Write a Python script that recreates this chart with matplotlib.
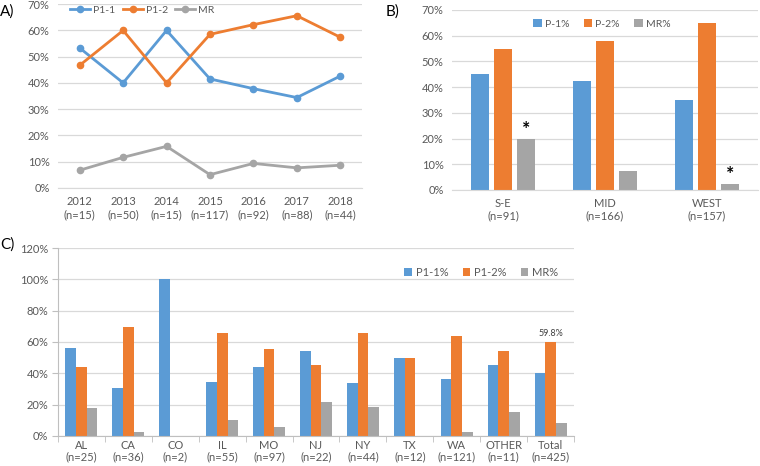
import matplotlib.pyplot as plt
import numpy as np

plt.rcParams['font.family'] = ['Lato', 'DejaVu Sans']

BLUE = '#5B9BD5'
ORANGE = '#ED7D31'
GRAY = '#A5A5A5'
GRID = '#D9D9D9'
TXT = '#595959'

# Panel A: by year
years = ['2012', '2013', '2014', '2015', '2016', '2017', '2018']
year_n = [15, 50, 15, 117, 92, 88, 44]
a_p11 = [53.3, 40.0, 60.0, 41.5, 37.8, 34.4, 42.6]
a_p12 = [46.7, 60.0, 40.0, 58.5, 62.2, 65.6, 57.4]
a_mr = [6.7, 11.6, 15.8, 5.0, 9.3, 7.6, 8.6]

# Panel B: by region
regions = ['S-E', 'MID', 'WEST']
region_n = [91, 166, 157]
b_p1 = [45.0, 42.2, 35.0]
b_p2 = [55.0, 57.8, 65.0]
b_mr = [20.0, 7.2, 2.5]
b_star = [True, False, True]

# Panel C: by state
states = ['AL', 'CA', 'CO', 'IL', 'MO', 'NJ', 'NY', 'TX', 'WA', 'OTHER', 'Total']
state_n = [25, 36, 2, 55, 97, 22, 44, 12, 121, 11, 425]
c_p11 = [56.0, 30.6, 100.0, 34.5, 44.3, 54.5, 34.1, 50.0, 36.4, 45.5, 40.2]
c_p12 = [44.0, 69.4, 0.0, 65.5, 55.7, 45.5, 65.9, 50.0, 63.6, 54.5, 59.8]
c_mr = [18.0, 2.8, 0.0, 10.3, 5.7, 21.7, 18.8, 0.0, 2.3, 15.3, 8.2]

FS = 8


def style_axes(ax, ymax, step):
    ticks = np.arange(0, ymax + 0.1, step)
    ax.set_ylim(0, ymax)
    ax.set_yticks(ticks)
    ax.set_yticklabels([f'{t:.0f}%' for t in ticks])
    ax.yaxis.grid(True, color=GRID, linewidth=0.9)
    ax.set_axisbelow(True)
    for s in ['top', 'right', 'left']:
        ax.spines[s].set_visible(False)
    ax.spines['bottom'].set_color(GRID)
    ax.tick_params(axis='both', length=0, colors=TXT, labelsize=FS)
    ax.tick_params(axis='y', pad=6)


fig = plt.figure(figsize=(7.6, 4.66), dpi=100)

# ---- A ----
axA = fig.add_axes([0.0763, 0.597, 0.40, 0.394])
x = np.arange(len(years))
for vals, col, lab in [(a_p11, BLUE, 'P1-1'), (a_p12, ORANGE, 'P1-2'), (a_mr, GRAY, 'MR')]:
    axA.plot(x, vals, color=col, lw=2, marker='o', ms=4.5, label=lab)
style_axes(axA, 70, 10)
axA.set_xlim(-0.5, len(years) - 0.5)
axA.set_xticks(x)
axA.set_xticklabels([f'{y}\n(n={n})' for y, n in zip(years, year_n)], linespacing=1.2)
axA.tick_params(axis='x', pad=6)
axA.legend(loc='upper left', bbox_to_anchor=(0.01, 1.045), ncol=3, frameon=False,
           fontsize=7.5, handlelength=1.9, columnspacing=0.7, handletextpad=0.3,
           labelcolor=TXT)
fig.text(0.0, 0.975, 'A)', fontsize=11, va='center')

# ---- B ----
axB = fig.add_axes([0.5947, 0.5923, 0.4026, 0.3863])
x = np.arange(len(regions))
w = 0.18
off = 0.225
axB.bar(x - off, b_p1, w, color=BLUE, label='P-1%')
axB.bar(x, b_p2, w, color=ORANGE, label='P-2%')
barsMR = axB.bar(x + off, b_mr, w, color=GRAY, label='MR%')
for bar, star in zip(barsMR, b_star):
    if star:
        axB.text(bar.get_x() + bar.get_width() / 2, bar.get_height() + 0.3, '*',
                 ha='center', va='bottom', fontsize=14, fontweight='bold')
style_axes(axB, 70, 10)
axB.set_xlim(-0.5, len(regions) - 0.5)
axB.set_xticks(x)
axB.set_xticklabels([f'{r}\n(n={n})' for r, n in zip(regions, region_n)], linespacing=1.1)
axB.tick_params(axis='x', pad=6)
axB.legend(loc='upper center', bbox_to_anchor=(0.49, 1.0), ncol=3, frameon=False,
           fontsize=7.5, handlelength=0.8, handleheight=0.8, columnspacing=1.4,
           handletextpad=0.3, labelcolor=TXT)
fig.text(0.508, 0.975, 'B)', fontsize=11, va='center')

# ---- C ----
axC = fig.add_axes([0.0763, 0.0644, 0.679, 0.4034])
x = np.arange(len(states))
w = 0.227
axC.bar(x - w, c_p11, w, color=BLUE, label='P1-1%')
barsC2 = axC.bar(x, c_p12, w, color=ORANGE, label='P1-2%')
axC.bar(x + w, c_mr, w, color=GRAY, label='MR%')
tb = barsC2[-1]
axC.text(tb.get_x() + tb.get_width() / 2, tb.get_height() + 2.5, f'{c_p12[-1]}%',
         ha='center', va='bottom', fontsize=6.5, color='#404040')
style_axes(axC, 120, 20)
axC.spines['left'].set_visible(True)
axC.spines['left'].set_color('#BFBFBF')
axC.spines['bottom'].set_color('#BFBFBF')
axC.set_xlim(-0.5, len(states) - 0.5)
axC.set_xticks(x)
axC.set_xticklabels([f'{s}\n(n={n})' for s, n in zip(states, state_n)], linespacing=1.0)
axC.set_xticks(np.arange(-0.5, len(states), 1), minor=True)
axC.tick_params(axis='x', which='minor', length=4, color='#BFBFBF', direction='out')
axC.tick_params(axis='x', which='major', pad=3)
axC.tick_params(axis='y', which='major', length=4, color='#BFBFBF', pad=3)
axC.legend(loc='center', bbox_to_anchor=(0.82, 0.87), ncol=3, frameon=False,
           fontsize=FS, handlelength=0.7, handleheight=0.7, columnspacing=1.3,
           handletextpad=0.3, labelcolor=TXT)
fig.text(0.0, 0.475, 'C)', fontsize=11, va='center')

fig.savefig('out.png', dpi=100)
